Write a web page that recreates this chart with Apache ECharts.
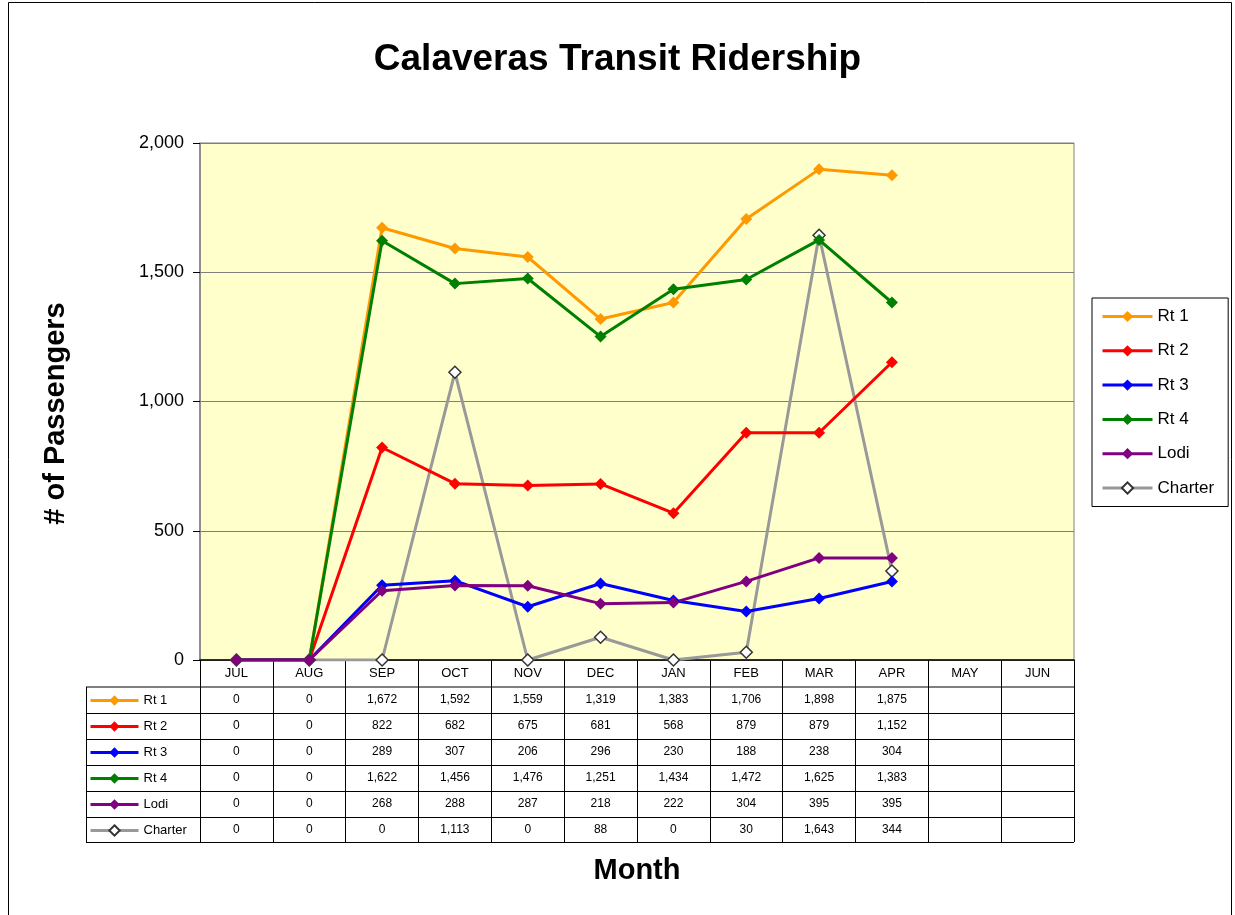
<!DOCTYPE html>
<html>
<head>
<meta charset="utf-8">
<title>Calaveras Transit Ridership</title>
<script src="https://cdn.jsdelivr.net/npm/echarts@6/dist/echarts.min.js"></script>
<style>
  html, body { margin: 0; padding: 0; background: #fff; }
  #chart { width: 1235px; height: 915px; }
</style>
</head>
<body>
<div id="chart"></div>
<script>
// months and monthly passenger counts (MAY / JUN not reported yet)
var months = ["JUL", "AUG", "SEP", "OCT", "NOV", "DEC", "JAN", "FEB", "MAR", "APR", "MAY", "JUN"];
var rt1 = [0, 0, 1672, 1592, 1559, 1319, 1383, 1706, 1898, 1875, null, null];
var rt2 = [0, 0, 822, 682, 675, 681, 568, 879, 879, 1152, null, null];
var rt3 = [0, 0, 289, 307, 206, 296, 230, 188, 238, 304, null, null];
var rt4 = [0, 0, 1622, 1456, 1476, 1251, 1434, 1472, 1625, 1383, null, null];
var lodi = [0, 0, 268, 288, 287, 218, 222, 304, 395, 395, null, null];
var charter = [0, 0, 0, 1113, 0, 88, 0, 30, 1643, 344, null, null];
var yTicks = [0, 500, 1000, 1500, 2000];

var seriesNames = ["Rt 1", "Rt 2", "Rt 3", "Rt 4", "Lodi", "Charter"];
var seriesData = [rt1, rt2, rt3, rt4, lodi, charter];
var seriesColors = ["#FF9900", "#FF0000", "#0000FF", "#008000", "#800080", "#999999"];

var font = "'Liberation Sans', Arial, sans-serif";

function fmt(v) {
  if (v === null || v === undefined) return " ";
  return String(v).replace(/\B(?=(\d{3})+(?!\d))/g, ",");
}

// x-axis label doubles as the data table column
function tableLabel(value, idx) {
  var lines = ["{h|" + value + "}"];
  for (var i = 0; i < seriesData.length; i++) {
    lines.push("{v|" + fmt(seriesData[i][idx]) + "}");
  }
  return lines.join("\n");
}

var series = seriesNames.map(function (name, i) {
  var isCharter = name === "Charter";
  return {
    name: name,
    type: "line",
    data: seriesData[i],
    symbol: "diamond",
    symbolSize: 12,
    lineStyle: { color: seriesColors[i], width: 3 },
    itemStyle: isCharter
      ? { color: "#ffffff", borderColor: "#333333", borderWidth: 1.5 }
      : { color: seriesColors[i] },
    z: isCharter ? 1 : 2
  };
});

// table cell borders
var tableGraphics = [];
var rowLines = [687, 713.5, 739.5, 765.5, 791.5, 817.5, 842.5];
rowLines.forEach(function (y) {
  tableGraphics.push({
    type: "line",
    shape: { x1: 86, y1: y, x2: 1074, y2: y },
    style: { stroke: "#000", lineWidth: 1 },
    silent: true
  });
});
tableGraphics.push({
  type: "line",
  shape: { x1: 86.5, y1: 687, x2: 86.5, y2: 842.5 },
  style: { stroke: "#000", lineWidth: 1 },
  silent: true
});
// outer chart border
tableGraphics.push({
  type: "rect",
  shape: { x: 8.5, y: 2.5, width: 1223, height: 920 },
  style: { fill: "none", stroke: "#000", lineWidth: 1 },
  silent: true,
  z: -10
});

var chart = echarts.init(document.getElementById("chart"));
chart.setOption({
  animation: false,
  backgroundColor: "#ffffff",
  textStyle: { fontFamily: font },
  title: {
    text: "Calaveras Transit Ridership",
    left: "center",
    top: 36,
    textStyle: { fontFamily: font, fontSize: 37, fontWeight: "bold", color: "#000" }
  },
  legend: [
    {
      data: seriesNames,
      orient: "vertical",
      left: 1092,
      top: 298,
      itemWidth: 50,
      itemHeight: 14,
      itemGap: 17.3,
      padding: [10, 14, 10, 9],
      borderColor: "#000",
      borderWidth: 1,
      backgroundColor: "#fff",
      selectedMode: false,
      lineStyle: { width: 3 },
      textStyle: { fontFamily: font, fontSize: 17, color: "#000" }
    },
    {
      data: seriesNames,
      orient: "vertical",
      left: 89,
      top: 694,
      itemWidth: 48,
      itemHeight: 13,
      itemGap: 13,
      itemTextGap: 3,
      padding: 0,
      selectedMode: false,
      lineStyle: { width: 3 },
      textStyle: { fontFamily: font, fontSize: 13, color: "#000" }
    }
  ],
  grid: {
    left: 200,
    right: 161,
    top: 143,
    bottom: 255,
    show: true,
    backgroundColor: "#FFFFCC",
    borderColor: "#808080",
    borderWidth: 1
  },
  xAxis: {
    type: "category",
    data: months,
    boundaryGap: true,
    name: "Month",
    nameLocation: "middle",
    nameGap: 196,
    nameTextStyle: { fontFamily: font, fontSize: 29, fontWeight: "bold", color: "#000" },
    axisLine: { lineStyle: { color: "#000", width: 1.5 } },
    axisTick: { show: true, interval: 0, length: 182, lineStyle: { color: "#000", width: 1 } },
    splitLine: { show: false },
    axisLabel: {
      interval: 0,
      margin: 0,
      formatter: tableLabel,
      rich: {
        h: { fontFamily: font, fontSize: 13, lineHeight: 27, color: "#000" },
        v: { fontFamily: font, fontSize: 12, lineHeight: 26, color: "#000" }
      }
    }
  },
  yAxis: {
    type: "value",
    min: yTicks[0],
    max: yTicks[yTicks.length - 1],
    interval: 500,
    name: "# of Passengers",
    nameLocation: "middle",
    nameGap: 130,
    nameTextStyle: { fontFamily: font, fontSize: 29, fontWeight: "bold", color: "#000", padding: [0, 24, 0, 0] },
    axisLine: { show: true, lineStyle: { color: "#808080", width: 1.5 } },
    axisTick: { show: true, length: 7, lineStyle: { color: "#000" } },
    axisLabel: {
      margin: 16,
      fontFamily: font,
      fontSize: 18,
      color: "#000",
      formatter: function (v) { return fmt(v); }
    },
    splitLine: { show: true, lineStyle: { color: "#7f7f7f", width: 1 } }
  },
  series: series,
  graphic: tableGraphics
});
</script>
</body>
</html>
